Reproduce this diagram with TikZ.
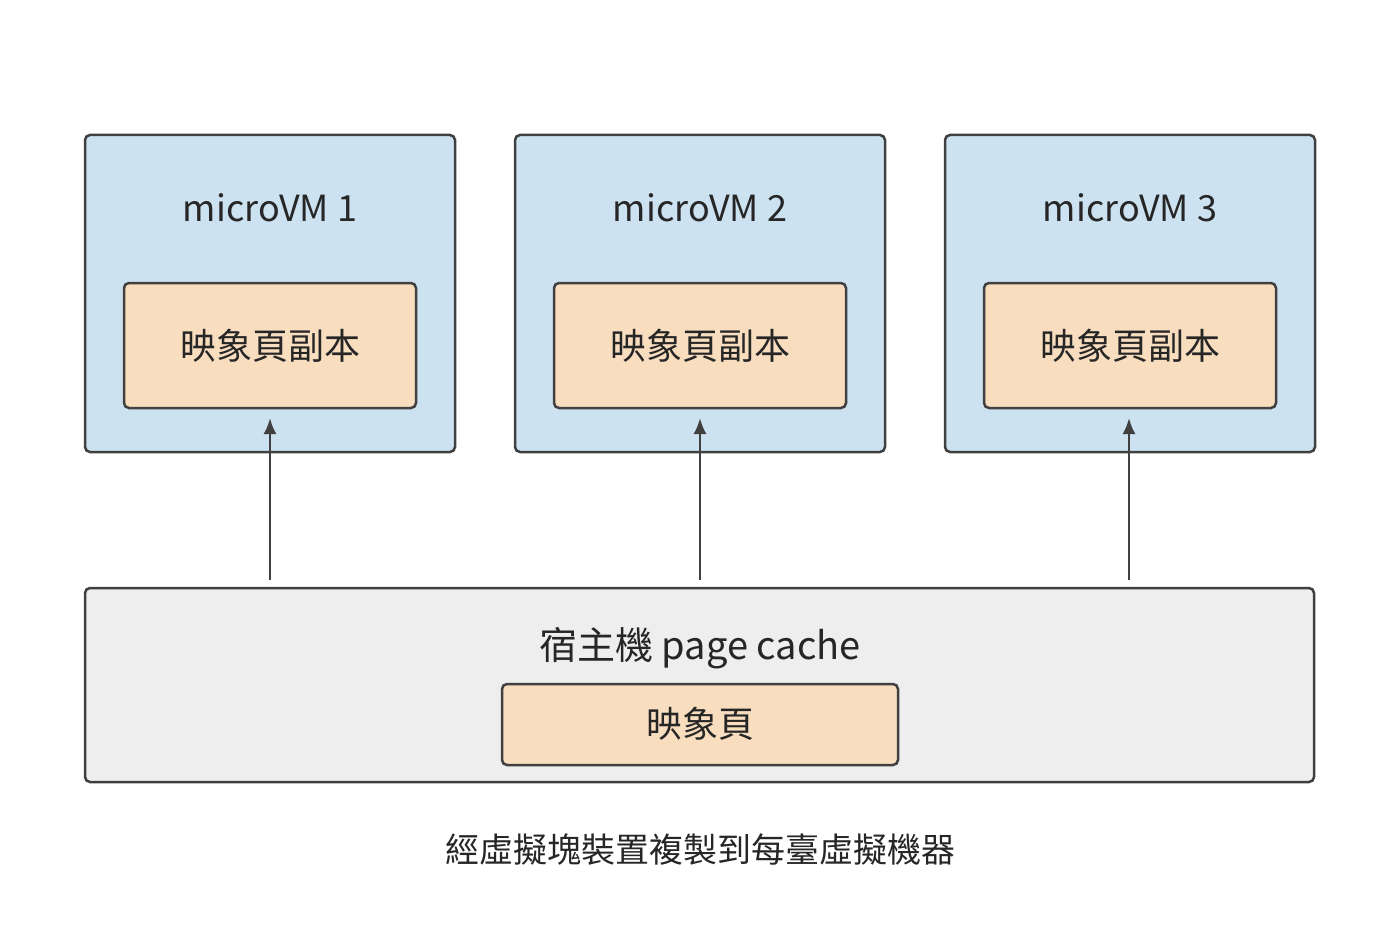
\documentclass[tikz,border=0pt]{standalone}
\usepackage{fontspec}
\setmainfont{Noto Sans CJK TC}
\tikzset{
 box/.style={draw=black!75,line width=2.5pt,rounded corners=5pt},
 vm/.style={box,fill=vmblue},
 pg/.style={box,fill=pgorange},
 host/.style={box,fill=hostgrey},
 lbl/.style={font=\fontsize{36}{40}\selectfont,text=black!85},
 arr/.style={draw=black!75,line width=2.5pt,-{Latex[length=16pt,width=13pt]}}
}
\usetikzlibrary{arrows.meta}
\definecolor{vmblue}{HTML}{CCE2F1}
\definecolor{pgorange}{HTML}{F8DDBF}
\definecolor{hostgrey}{HTML}{EEEEEE}
\begin{document}
\begin{tikzpicture}[x=1pt,y=-1pt]
\useasboundingbox (0,0) rectangle (1400,936);
\foreach \i/\x in {1/85,2/515,3/945}{
 \draw[vm] (\x,135) rectangle +(370,317);
 \node[lbl] (t\i) at (\x+185,208) {microVM \i};
 \draw[pg] (\x+39,283) rectangle +(292,125);
 \node[lbl] (c\i) at (\x+185,346) {映象頁副本};
}
\draw[host] (85,588) rectangle (1314,782);
\node[lbl,font=\fontsize{38}{42}\selectfont] (h) at (700,648) {宿主機 page cache};
\draw[pg] (502,684) rectangle (898,765);
\node[lbl] (hp) at (700,724) {映象頁};
\coordinate (s1) at (270,580); \coordinate (e1) at (270,418);
\coordinate (s2) at (700,580); \coordinate (e2) at (700,418);
\coordinate (s3) at (1129,580); \coordinate (e3) at (1129,418);
\foreach \i in {1,2,3}{\draw[arr] (s\i) -- (e\i);}
\node[lbl,font=\fontsize{34}{38}\selectfont] (cap) at (700,850) {經虛擬塊裝置複製到每臺虛擬機器};
\end{tikzpicture}
\end{document}
